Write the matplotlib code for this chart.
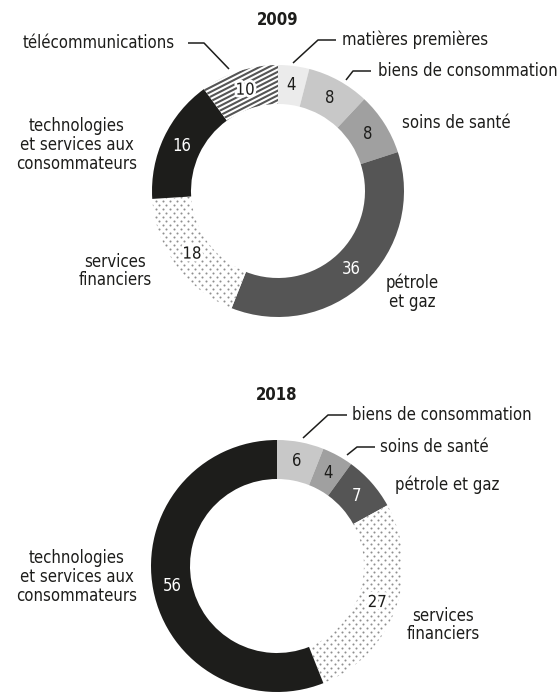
import numpy as np
import matplotlib
matplotlib.use('Agg')
import matplotlib.pyplot as plt
import matplotlib.patheffects as pe
from matplotlib import font_manager

# narrow font if the system has one, else Liberation Sans (Arial metrics)
cond = font_manager.findfont(font_manager.FontProperties(family='DejaVu Sans', stretch='condensed'))
if 'ondensed' in cond:
    plt.rcParams['font.family'] = ['DejaVu Sans']
    plt.rcParams['font.stretch'] = 'condensed'
else:
    plt.rcParams['font.family'] = ['Liberation Sans', 'DejaVu Sans']

W, H = 558, 693
INK = '#1d1d1b'

# data
keys_2009 = ['mat', 'biens', 'sante', 'petrole', 'fin', 'tech', 'tele']
names_2009 = ['matières premières', 'biens de consommation', 'soins de santé',
              'pétrole\net gaz', 'services\nfinanciers',
              'technologies\net services aux\nconsommateurs', 'télécommunications']
values_2009 = [4, 8, 8, 36, 18, 16, 10]

keys_2018 = ['biens', 'sante', 'petrole', 'fin', 'tech']
names_2018 = ['biens de consommation', 'soins de santé', 'pétrole et gaz',
              'services\nfinanciers', 'technologies\net services aux\nconsommateurs']
values_2018 = [6, 4, 7, 27, 56]

# styles per sector: face, texture, value text colour
styles = {
    'mat':     ('#ebebeb', None, INK),
    'biens':   ('#c8c8c8', None, INK),
    'sante':   ('#a0a0a0', None, INK),
    'petrole': ('#555555', None, 'white'),
    'fin':     ('white', 'dots', INK),
    'tech':    ('#1d1d1b', None, 'white'),
    'tele':    ('white', 'stripes', INK),
}


def Y(p):
    return H - p


fig = plt.figure(figsize=(W / 100, H / 100), dpi=100)
ax = fig.add_axes([0, 0, 1, 1])

R = 126
RING = 39


def texture(wedge, kind, cx, cy):
    # fill pattern, clipped to the wedge
    if kind == 'stripes':
        slope = np.tan(np.deg2rad(27))
        xs = np.array([cx - R, cx + R])
        for b in np.arange(-2 * R, 2 * R, 4.7):
            ln, = ax.plot(xs, cy + b + slope * (xs - cx), color='#555555',
                          lw=1.5, solid_capstyle='butt')
            ln.set_clip_path(wedge)
    else:
        pts = []
        for i, yy in enumerate(np.arange(cy - R, cy + R, 4.0)):
            off = 3.6 if i % 2 else 0.0
            for xx in np.arange(cx - R + off, cx + R, 7.2):
                pts.append((xx, yy))
        pts = np.array(pts)
        sc = ax.scatter(pts[:, 0], pts[:, 1], s=2.2, color='#8f8f8f',
                        linewidths=0)
        sc.set_clip_path(wedge)


def donut(cx, cy, keys, values, title, labels):
    wedges, _ = ax.pie(values, center=(cx, Y(cy)), radius=R, startangle=90,
                       counterclock=False, frame=True,
                       wedgeprops=dict(width=RING, linewidth=0))
    for w, k, v in zip(wedges, keys, values):
        face, tex, tcol = styles[k]
        w.set_facecolor(face)
        if tex:
            texture(w, tex, cx, Y(cy))
        mid = np.deg2rad((w.theta1 + w.theta2) / 2)
        r = R - RING / 2
        t = ax.text(cx + r * np.cos(mid), Y(cy) + r * np.sin(mid), str(v),
                    ha='center', va='center', fontsize=12, color=tcol, zorder=5)
        if tex:
            t.set_path_effects([pe.withStroke(linewidth=4, foreground='white')])
    ax.text(cx, Y(cy - 171), title, ha='center', va='center',
            fontsize=12, fontweight='bold', color=INK)
    for text, (x, y), ha, leader in labels:
        ax.text(x, Y(y), text, ha=ha, va='center', fontsize=12, color=INK,
                linespacing=1.05, multialignment='center')
        if leader:
            xs, ys = zip(*leader)
            ax.plot(xs, [Y(v) for v in ys], color=INK, lw=1.1,
                    solid_capstyle='butt')


labels_2009 = [
    (names_2009[0], (342, 40), 'left', [(336, 40), (318, 40), (293, 63)]),
    (names_2009[1], (378, 71), 'left', [(371, 71), (353, 71), (346, 80)]),
    (names_2009[2], (402, 123), 'left', None),
    (names_2009[3], (412, 292), 'center', None),
    (names_2009[4], (115, 271), 'center', None),
    (names_2009[5], (77, 145), 'center', None),
    (names_2009[6], (175, 43), 'right', [(188, 43), (204, 43), (229, 69)]),
]
labels_2018 = [
    (names_2018[0], (352, 415), 'left', [(347, 415), (328, 415), (303, 438)]),
    (names_2018[1], (380, 447), 'left', [(375, 447), (357, 447), (347, 455)]),
    (names_2018[2], (395, 485), 'left', None),
    (names_2018[3], (443, 625), 'center', None),
    (names_2018[4], (77, 577), 'center', None),
]

donut(278, 191, keys_2009, values_2009, '2009', labels_2009)
donut(277, 566, keys_2018, values_2018, '2018', labels_2018)

ax.set_xlim(0, W)
ax.set_ylim(0, H)
ax.set_aspect('equal')
ax.axis('off')

fig.savefig('out.png', dpi=100, facecolor='white')
